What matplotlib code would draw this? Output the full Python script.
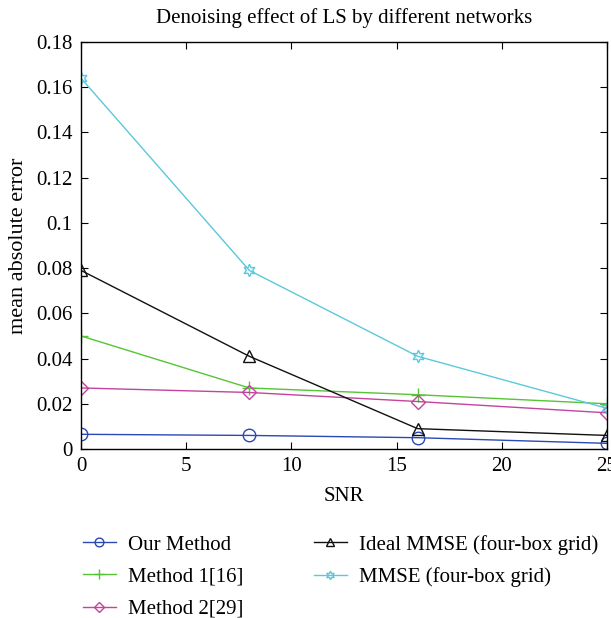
import matplotlib
matplotlib.use("Agg")
import matplotlib.pyplot as plt
import numpy as np

plt.rcParams['font.family'] = ['Liberation Serif', 'DejaVu Serif']

snr = [0, 8, 16, 25]
our_method = [0.0065, 0.006, 0.005, 0.0025]
method1 = [0.050, 0.027, 0.024, 0.020]
method2 = [0.027, 0.025, 0.021, 0.016]
ideal_mmse = [0.079, 0.041, 0.009, 0.006]
mmse = [0.164, 0.079, 0.041, 0.018]

labels = ["Our Method", "Method 1[16]", "Method 2[29]",
          "Ideal MMSE (four-box grid)", "MMSE (four-box grid)"]
yticks = [0, 0.02, 0.04, 0.06, 0.08, 0.1, 0.12, 0.14, 0.16, 0.18]
ytick_labels = ["0", "0.02", "0.04", "0.06", "0.08", "0.1", "0.12", "0.14", "0.16", "0.18"]
xticks = [0, 5, 10, 15, 20, 25]

fig = plt.figure(figsize=(6.11, 6.18), dpi=100)
ax = fig.add_axes([81/611, 1-449/618, (607-81)/611, (449-42)/618])

series = [our_method, method1, method2, ideal_mmse, mmse]
colors = ['#2b48b3', '#55c435', '#c2449e', '#111111', '#5cc8dc']
markers = ['o', '+', 'D', '^', (6, 1, 0)]
msizes = [9, 10, 7, 9, 9]
for s, c, m, ms, lab in zip(series, colors, markers, msizes, labels):
    ax.plot(snr, s, color=c, marker=m, markersize=ms, markerfacecolor='none',
            markeredgecolor=c, linewidth=1.0, markeredgewidth=1.0, label=lab)

ax.set_xlim(0, 25)
ax.set_ylim(0, 0.18)
ax.set_xticks(xticks)
ax.set_yticks(yticks)
ax.set_yticklabels(ytick_labels)
ax.tick_params(direction='in', top=True, right=True, labelsize=15, length=5, pad=6)
for sp in ax.spines.values():
    sp.set_linewidth(1.0)
ax.set_title("Denoising effect of LS by different networks", fontsize=15, pad=14)
ax.set_xlabel("SNR", fontsize=15, labelpad=8)
ax.set_ylabel("mean absolute error", fontsize=16, labelpad=6)

fig.legend(loc='upper left', bbox_to_anchor=(64/611, 1-516/618), ncol=2,
           frameon=False, fontsize=15, handlelength=1.6, handletextpad=0.55,
           columnspacing=3.4, labelspacing=0.6, markerscale=0.7)

fig.savefig("out.png", dpi=100)
